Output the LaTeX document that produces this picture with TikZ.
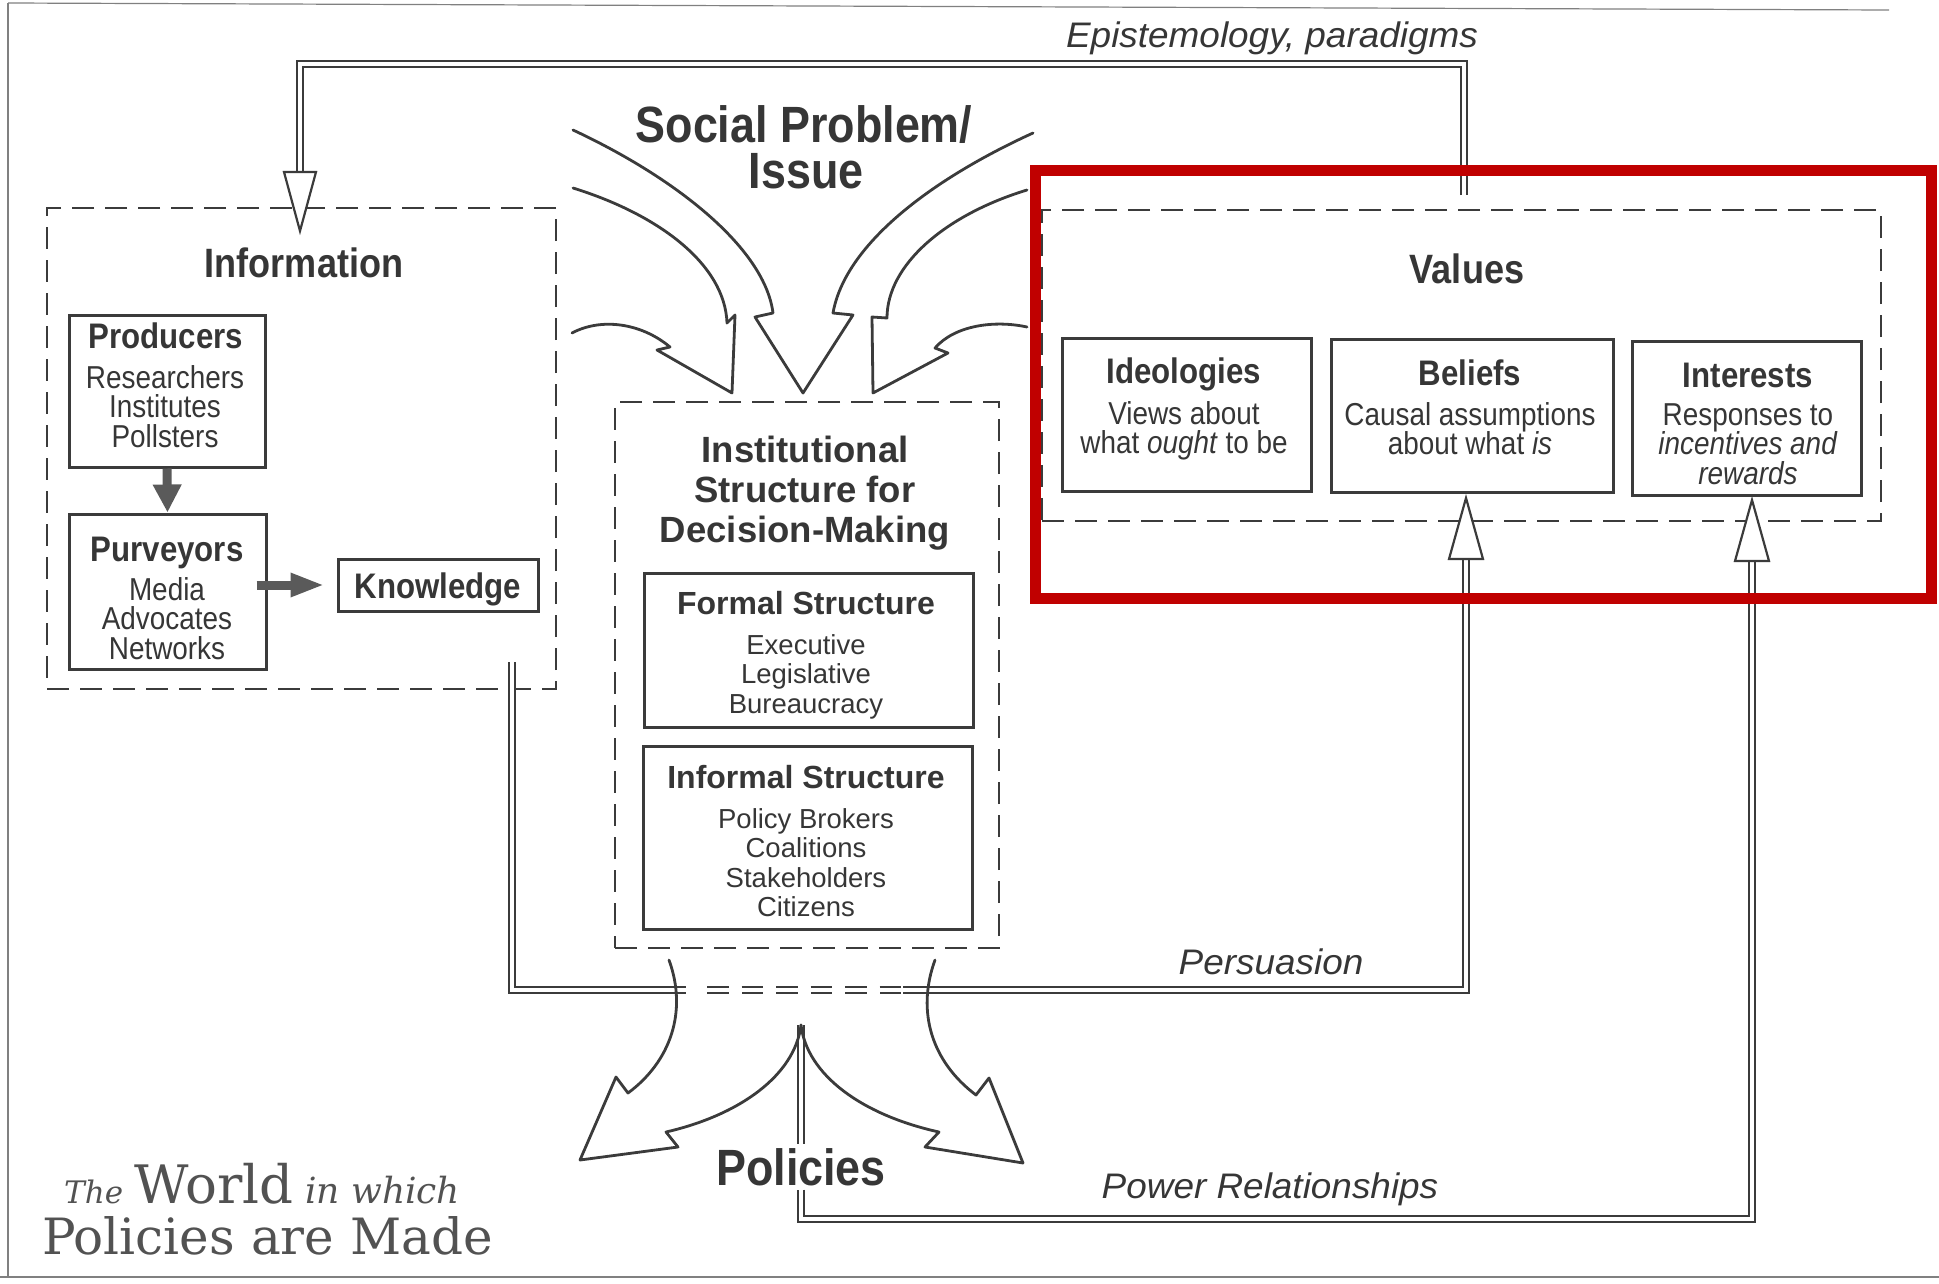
\documentclass[tikz,border=0pt]{standalone}
\usepackage{fontspec}
\newfontfamily\helv{Liberation Sans}
\newfontfamily\condf{Liberation Sans}[FakeStretch=0.88]
\newfontfamily\obliquef{Liberation Sans}[FakeStretch=1.04]
\newfontfamily\worldf{DejaVu Serif}
\usetikzlibrary{positioning,calc,arrows.meta}

\definecolor{ink}{HTML}{3B3B3B}
\definecolor{txt}{HTML}{363636}
\definecolor{flowgray}{HTML}{5A5A5A}
\definecolor{hilite}{HTML}{C00000}

\tikzset{
  dashbox/.style={draw=ink, line width=2.4pt, dash pattern=on 22pt off 11pt},
  sbox/.style={draw=ink, line width=3pt},
  bigtitle/.style={font={\condf\bfseries\fontsize{51}{55}\selectfont}, text=txt, anchor=base},
  midtitle/.style={font={\condf\bfseries\fontsize{41}{45}\selectfont}, text=txt, anchor=base},
  boxtitle/.style={font={\condf\bfseries\fontsize{35.5}{40}\selectfont}, text=txt, anchor=base},
  boxitems/.style={font={\condf\fontsize{31.7}{29.5}\selectfont\lineskiplimit-40pt\relax}, text=txt, align=center, anchor=north},
  insttitle/.style={font={\helv\bfseries\fontsize{36.5}{40}\selectfont\lineskiplimit-40pt\relax}, text=txt, align=center, anchor=north},
  subtitle/.style={font={\helv\bfseries\fontsize{32}{36}\selectfont}, text=txt, anchor=base},
  institems/.style={font={\helv\fontsize{27.5}{29.5}\selectfont\lineskiplimit-40pt\relax}, text=txt, align=center, anchor=north},
  looptext/.style={font={\obliquef\itshape\fontsize{35.5}{40}\selectfont}, text=txt, anchor=base},
  worldtext/.style={font={\worldf\fontsize{36}{38}\selectfont}, text=black!68, anchor=base west},
  dbl/.style={draw=ink, line width=1.8pt, double=white, double distance=4.5pt, line join=miter},
  openhead/.style={draw=ink, line width=2.2pt, fill=white, line join=miter},
  sweep/.style={draw=ink, line width=2.8pt, line join=round, line cap=round},
  flow/.style={draw=flowgray, line width=9pt, -{Triangle[length=28pt,width=27pt]}},
  pageline/.style={draw=black!50, line width=1.2pt}
}

\begin{document}
\begin{tikzpicture}[x=1pt, y=-1pt, every node/.style={inner sep=0pt}]
\useasboundingbox (0,0) rectangle (1939,1283);

% page frame
\draw[pageline] (8,3) -- (1889,10);
\draw[pageline] (8,3) -- (8,1277);
\draw[pageline] (0,1277) -- (1939,1277);

% information
\node[dashbox, minimum width=509pt, minimum height=481pt] (info) at (301.5,448.5) {};
\node[midtitle] (infoT) at (304,277) {Information};
\node[sbox, minimum width=196pt, minimum height=152pt] (prod) at (167,391) {};
\node[boxtitle] (prodT) at (166,348) {Producers};
\node[boxitems] (prodI) at (165,365) {Researchers\\Institutes\\Pollsters};
\node[sbox, minimum width=197pt, minimum height=155pt] (purv) at (167.5,591.5) {};
\node[boxtitle] (purvT) at (167,561) {Purveyors};
\node[boxitems] (purvI) at (167,577) {Media\\Advocates\\Networks};
\node[sbox, minimum width=200pt, minimum height=52pt] (know) at (438,585) {};
\node[boxtitle] (knowT) at (438,598) {Knowledge};
\draw[flow] (prod.south) -- (purv.north);
\draw[flow, -{Triangle[length=34pt,width=22pt]}, shorten <=-11pt, shorten >=12pt] (purv.east |- know.west) -- (know.west);

% values
\node[dashbox, minimum width=839pt, minimum height=311pt] (vals) at (1461.5,365.5) {};
\node[midtitle] (valsT) at (1467,283) {Values};
\node[sbox, minimum width=249pt, minimum height=153pt] (ideo) at (1186.5,414.5) {};
\node[boxtitle] (ideoT) at (1184,383) {Ideologies};
\node[boxitems] (ideoI) at (1184,401) {Views about\\what \textit{ought} to be};
\node[sbox, minimum width=282pt, minimum height=153pt] (belief) at (1472,415.5) {};
\node[boxtitle] (beliefT) at (1470,385) {Beliefs};
\node[boxitems] (beliefI) at (1470,402) {Causal assumptions\\about what \textit{is}};
\node[sbox, minimum width=229pt, minimum height=154pt] (inter) at (1746.5,418) {};
\node[boxtitle] (interT) at (1748,387) {Interests};
\node[boxitems] (interI) at (1748,403) {Responses to\\\textit{incentives and}\\\textit{rewards}};

% institutional structure
\node[dashbox, minimum width=384pt, minimum height=546pt] (inst) at (807,675) {};
\node[insttitle] (instT) at (805,435.5) {Institutional\\Structure for\\Decision-Making};
\node[sbox, minimum width=329pt, minimum height=154pt] (formal) at (808.5,650) {};
\node[subtitle] (formalT) at (806,614) {Formal Structure};
\node[institems] (formalI) at (806,634) {Executive\\Legislative\\Bureaucracy};
\node[sbox, minimum width=329pt, minimum height=183pt] (informal) at (807.5,837.5) {};
\node[subtitle] (informalT) at (806,788) {Informal Structure};
\node[institems] (informalI) at (806,808) {Policy Brokers\\Coalitions\\Stakeholders\\Citizens};

% problem and policies
\node[bigtitle] (socT) at (804,142) {Social Problem/};
\node[bigtitle] (issT) at (806,188) {Issue};
\node[bigtitle, inner sep=4pt] (pol) at (801,1185) {Policies};

% arrows into the institutional structure
\draw[sweep] (573,130) .. controls (680,180) and (765,250) .. (773,313) -- (755,317) -- (803,393)
  -- (853,315) -- (833,313) .. controls (845,245) and (930,180) .. (1033,133);
\draw[sweep] (573,188) .. controls (660,215) and (725,265) .. (727,323) -- (735,315) -- (732,393)
  -- (657,350) -- (670,347) .. controls (640,322) and (600,318) .. (572,333);
\draw[sweep] (1027,190) .. controls (945,215) and (887,265) .. (887,318) -- (872,317) -- (873,393)
  -- (948,353) -- (935,348) .. controls (955,325) and (995,320) .. (1027,327);

% feedback: epistemology
\coordinate (episA) at (1464,195);
\coordinate (episB) at (300,172);
\draw[dbl] (episA) -- ++(0,-131) -| (episB);
\draw[openhead] (episB) ++(-16,0) -- ++(16,59) -- ++(16,-59) -- cycle;
\node[looptext] (episT) at (1272,47) {Epistemology, paradigms};

% feedback: persuasion
\coordinate (persA) at (512,662);
\coordinate (persL) at (686,990);
\coordinate (dashL) at (707,990);
\coordinate (persR) at (903,990);
\coordinate (persB) at (1466,559);
\draw[dbl] (persA) |- (persL);
\draw[dbl, dash pattern=on 21.5pt off 13pt] (dashL) -- (persR);
\draw[dbl] (persR) -| (persB);
\draw[openhead] (persB) ++(-17,0) -- ++(17,-61) -- ++(17,61) -- cycle;
\node[looptext] (persT) at (1271,974) {Persuasion};

% feedback: power relationships
\coordinate (split) at (801,1025);
\coordinate (powC) at (801,1219);
\coordinate (powB) at (1752,561);
\draw[dbl] (split) -- (pol.north);
\draw[dbl] (pol.south) -- (powC) -| (powB);
\draw[openhead] (powB) ++(-17,0) -- ++(17,-61) -- ++(17,61) -- cycle;
\node[looptext] (powT) at (1270,1198) {Power Relationships};

% arrows out to policies
\draw[sweep] (669,960) .. controls (688,1012) and (670,1062) .. (628,1093) -- (616,1077) -- (580,1160)
  -- (678,1147) -- (666,1132) .. controls (740,1115) and (795,1075) .. (split);
\draw[sweep] (935,960) .. controls (916,1012) and (932,1062) .. (976,1095) -- (989,1078) -- (1023,1163)
  -- (925,1147) -- (939,1132) .. controls (862,1115) and (807,1075) .. (split);

% title
\node[worldtext] (worldA) at (64,1203) {{\itshape\fontsize{31}{34}\selectfont The} {\fontsize{53}{55}\selectfont World} {\itshape in which}};
\node[worldtext] (worldB) at (42,1254) {\fontsize{50}{52}\selectfont Policies are Made};

% highlight
\draw[hilite, line width=11pt] (1035,170) rectangle (1931,598);
\end{tikzpicture}
\end{document}
